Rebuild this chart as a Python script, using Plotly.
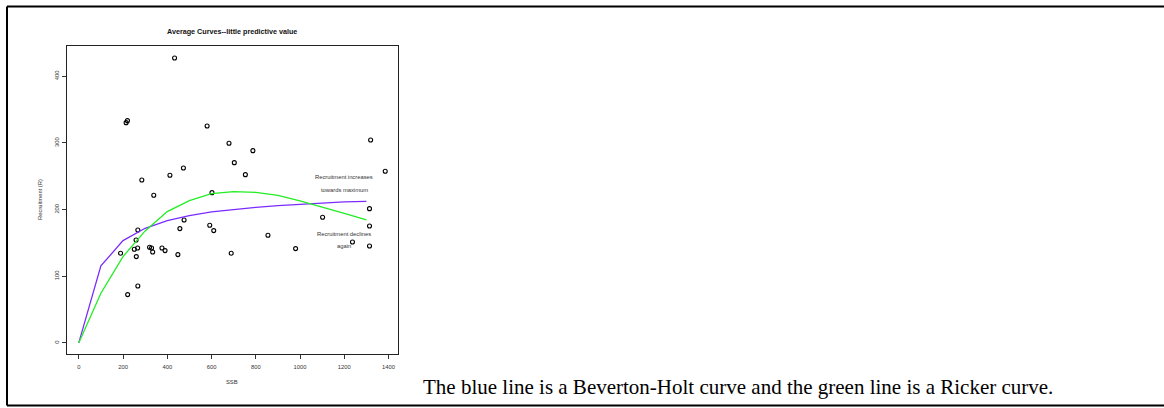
import plotly.graph_objects as go

# observed stock / recruitment pairs
ssb = [433, 214, 220, 580, 679, 787, 703, 473, 753, 412, 285, 339, 602,
       1319, 1385, 1314, 1102, 476, 457, 592, 610, 267, 259, 855, 1314,
       1237, 1314, 980, 189, 251, 266, 260, 320, 329, 334, 376, 390, 448,
       689, 267, 221]
rec = [427.5, 330.5, 333.5, 325.5, 299.5, 288.5, 270.5, 262.5, 252.5, 251.5,
       244.5, 221.5, 225.5, 304.5, 257.5, 201.5, 188.5, 184.5, 171.5, 176.5,
       168.5, 169.5, 154.5, 161.5, 175.5, 151.5, 145.5, 141.5, 134.5, 140.5,
       142.5, 129.5, 143.5, 142.5, 136.5, 142.5, 138.5, 132.5, 134.5, 85.5,
       72.5]

curve_ssb = [0, 100, 200, 300, 400, 500, 600, 700, 800, 900, 1000, 1100, 1200, 1300]
bev_holt = [0, 115.5, 153.5, 172, 183.5, 191, 196.5, 200.5, 203.5, 206, 208, 210, 211.5, 212.5]
ricker = [0, 74.5, 129.5, 168, 197, 213.5, 224, 227, 226, 221.5, 213, 204, 194.5, 184.5]

x_ticks = [0, 200, 400, 600, 800, 1000, 1200, 1400]
y_ticks = [0, 100, 200, 300, 400]

fig = go.Figure()
fig.add_trace(go.Scatter(x=ssb, y=rec, mode="markers",
                         marker=dict(symbol="circle-open", size=4, color="black",
                                     line=dict(width=1.1, color="black"))))
fig.add_trace(go.Scatter(x=curve_ssb, y=bev_holt, mode="lines",
                         line=dict(color="#7a2cff", width=1.3)))
fig.add_trace(go.Scatter(x=curve_ssb, y=ricker, mode="lines",
                         line=dict(color="#22ee22", width=1.3)))

small = dict(family="Liberation Sans, Arial, sans-serif", size=5.8, color="#333333")

fig.update_layout(
    width=1164, height=408,
    margin=dict(l=0, r=0, t=0, b=0),
    paper_bgcolor="white", plot_bgcolor="white",
    showlegend=False,
    xaxis=dict(domain=[66.5 / 1164, 397.7 / 1164], range=[-55.4, 1441.4],
               tickvals=x_ticks, ticks="outside", ticklen=4, tickcolor="#333",
               ticklabelstandoff=3,
               tickfont=small, showgrid=False, zeroline=False,
               showline=True, linecolor="#222", linewidth=1, mirror=True),
    yaxis=dict(domain=[1 - 354.3 / 408, 1 - 46.3 / 408], range=[-17.1, 445.1],
               tickvals=y_ticks, ticks="outside", ticklen=4, tickcolor="#333",
               tickangle=-90, tickfont=small, showgrid=False, zeroline=False,
               showline=True, linecolor="#222", linewidth=1, mirror=True),
)

# titles and labels
fig.add_annotation(text="<b>Average Curves--little predictive value</b>",
                   x=231.7 / 1164, y=1 - 31.7 / 408, xref="paper", yref="paper",
                   xanchor="center", yanchor="middle", showarrow=False,
                   font=dict(family="Liberation Sans, Arial, sans-serif",
                             size=7.2, color="#111"))
fig.add_annotation(text="SSB", x=231.7 / 1164, y=1 - 381.7 / 408,
                   xref="paper", yref="paper", xanchor="center", yanchor="middle",
                   showarrow=False, font=small)
fig.add_annotation(text="Recruitment (R)", x=40 / 1164, y=1 - 200 / 408,
                   xref="paper", yref="paper", xanchor="center", yanchor="middle",
                   showarrow=False, textangle=-90, font=small)

# in-plot notes
for txt, yv in [("Recruitment increases", 249.5), ("towards maximum", 230),
                ("Recruitment declines", 164), ("again", 146)]:
    fig.add_annotation(text=txt, x=1200, y=yv, xref="x", yref="y",
                       xanchor="center", yanchor="middle",
                       showarrow=False, font=small)

# caption
fig.add_annotation(text="The blue line is a Beverton-Holt curve and the green line is a Ricker curve.",
                   x=421 / 1164, y=1 - 386.5 / 408, xref="paper", yref="paper",
                   xanchor="left", yanchor="middle", showarrow=False,
                   font=dict(family="Liberation Serif, Times New Roman, serif",
                             size=21, color="black"))

# outer frame (right side runs off the page)
left, top, bottom = 7 / 1164, 1 - 6.5 / 408, 1 - 405.5 / 408
for x0, y0, x1, y1 in [(left, top, 1, top), (left, bottom, 1, bottom),
                       (left, bottom, left, top)]:
    fig.add_shape(type="line", xref="paper", yref="paper",
                  x0=x0, y0=y0, x1=x1, y1=y1, line=dict(color="black", width=2))

fig.write_html("out.html", config={"displayModeBar": False},
               post_script="document.body.style.margin='0';")
